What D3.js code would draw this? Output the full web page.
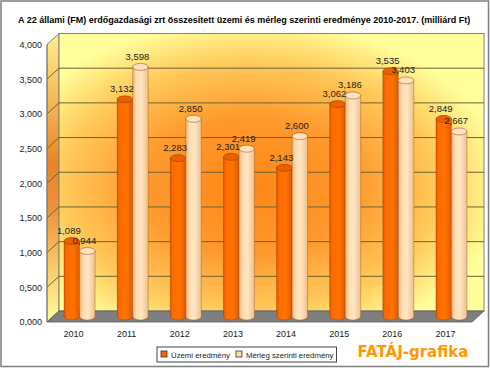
<!DOCTYPE html>
<html>
<head>
<meta charset="utf-8">
<script src="https://cdn.jsdelivr.net/npm/d3@7"></script>
<style>
  body { margin: 0; background: #fff; }
  svg { display: block; font-family: "Liberation Sans", Arial, sans-serif; }
</style>
</head>
<body>
<script>
// data (milliárd Ft)
const years = ["2010", "2011", "2012", "2013", "2014", "2015", "2016", "2017"];
const seriesNames = ["Üzemi eredmény", "Mérleg szerinti eredmény"];
const uzemi = [1.089, 3.132, 2.283, 2.301, 2.143, 3.062, 3.535, 2.849];
const merleg = [0.944, 3.598, 2.850, 2.419, 2.600, 3.186, 3.403, 2.667];
const yTicks = [0, 0.5, 1, 1.5, 2, 2.5, 3, 3.5, 4];

const title = "A 22 állami (FM) erdőgazdasági zrt összesített üzemi és mérleg szerinti eredménye 2010-2017. (milliárd Ft)";

const width = 490, height = 368;
const margin = {top: 44.5, right: 18, bottom: 46, left: 47};
const depth = {dx: 12, dy: -11};

const huFormat = d3.formatLocale({decimal: ",", thousands: " ", grouping: [3], currency: ["", " Ft"]}).format(".3f");

const svg = d3.select("body").append("svg")
    .attr("width", width)
    .attr("height", height);

const defs = svg.append("defs");

// back wall: orange centre fading to yellow
const wallGrad = defs.append("radialGradient")
    .attr("id", "wallGrad")
    .attr("cx", 0.45).attr("cy", 0.55).attr("r", 0.6);
[[0, "#ff8614"], [0.42, "#ff9a2e"], [0.74, "#ffca5a"], [1, "#ffff9c"]].forEach(s =>
    wallGrad.append("stop").attr("offset", s[0]).attr("stop-color", s[1]));

const sideGrad = defs.append("linearGradient")
    .attr("id", "sideGrad").attr("x1", 0).attr("y1", 0).attr("x2", 0).attr("y2", 1);
[[0, "#ffef8a"], [0.45, "#ec8426"], [0.6, "#f09034"], [1, "#ffff99"]].forEach(s =>
    sideGrad.append("stop").attr("offset", s[0]).attr("stop-color", s[1]));

// cylinder body shading
function cylGrad(id, stops) {
    const g = defs.append("linearGradient").attr("id", id)
        .attr("x1", 0).attr("y1", 0).attr("x2", 1).attr("y2", 0);
    stops.forEach(s => g.append("stop").attr("offset", s[0]).attr("stop-color", s[1]));
}
cylGrad("orangeBody", [[0, "#d95500"], [0.15, "#ff6a00"], [0.6, "#ff7300"], [1, "#e05a00"]]);
cylGrad("creamBody", [[0, "#e8b47a"], [0.25, "#ffdcb0"], [0.55, "#ffe6c4"], [1, "#efc08a"]]);

const colors = {
    body: ["url(#orangeBody)", "url(#creamBody)"],
    top: ["#ee5f00", "#ffe2bd"],
    legend: ["#ff6600", "#ffd9a6"]
};

// scales
const x = d3.scaleBand()
    .domain(years)
    .range([margin.left, width - margin.right]);

const y = d3.scaleLinear()
    .domain([0, 4])
    .range([height - margin.bottom, margin.top]);

const barW = 15.5;
const xs = d3.scaleBand()
    .domain(seriesNames)
    .range([(x.bandwidth() - 2 * barW) / 2, (x.bandwidth() + 2 * barW) / 2]);

const x0 = margin.left, x1 = width - margin.right;
const y0 = y(0), yTop = y(4);

// side wall
svg.append("path")
    .attr("d", `M${x0},${yTop}L${x0 + depth.dx},${yTop + depth.dy}L${x0 + depth.dx},${y0 + depth.dy}L${x0},${y0}Z`)
    .attr("fill", "url(#sideGrad)")
    .attr("stroke", "#808080");

// back wall
svg.append("rect")
    .attr("x", x0 + depth.dx)
    .attr("y", yTop + depth.dy)
    .attr("width", x1 - x0)
    .attr("height", y0 - yTop)
    .attr("fill", "url(#wallGrad)")
    .attr("stroke", "#808080");

// gridlines
const grid = svg.append("g").attr("stroke", "#6b6433").attr("stroke-width", 1).attr("fill", "none");
grid.selectAll("path")
    .data(yTicks.slice(1, -1))
    .join("path")
    .attr("d", d => `M${x0},${y(d)}L${x0 + depth.dx},${y(d) + depth.dy}L${x1 + depth.dx},${y(d) + depth.dy}`);

// floor
svg.append("path")
    .attr("d", `M${x0},${y0}L${x0 + depth.dx},${y0 + depth.dy}L${x1 + depth.dx},${y0 + depth.dy}L${x1},${y0}Z`)
    .attr("fill", "#7f7f7f")
    .attr("stroke", "#5a5a5a")
    .attr("stroke-width", 0.8);

// y axis line
svg.append("line")
    .attr("x1", x0).attr("x2", x0)
    .attr("y1", yTop).attr("y2", y0)
    .attr("stroke", "#808080");

// axes
const yAxis = svg.append("g")
    .attr("transform", `translate(${x0 - 5}, 0)`)
    .call(d3.axisLeft(y).tickValues(yTicks).tickFormat(huFormat).tickSize(0).tickPadding(0));
yAxis.select(".domain").remove();
yAxis.selectAll("text")
    .attr("font-family", "'Liberation Sans', Arial, sans-serif")
    .attr("font-size", 9)
    .attr("fill", "#222");

const xAxis = svg.append("g")
    .attr("transform", `translate(0, ${y0 + 9})`)
    .call(d3.axisBottom(x).tickSize(0).tickPadding(0));
xAxis.select(".domain").remove();
xAxis.selectAll("text")
    .attr("font-family", "'Liberation Sans', Arial, sans-serif")
    .attr("font-size", 9)
    .attr("fill", "#222");

// bars (cylinders at mid depth)
const bars = [];
years.forEach((yr, i) => {
    bars.push({year: yr, s: 0, value: uzemi[i]});
    bars.push({year: yr, s: 1, value: merleg[i]});
});

const mid = {dx: depth.dx / 2, dy: depth.dy / 2};
const ry = 3.5;
const cx = d => x(d.year) + xs(seriesNames[d.s]) + barW / 2 + mid.dx;
const cyTop = d => y(d.value) + mid.dy;
const cyBot = y0 + mid.dy;

const cyl = svg.append("g").selectAll("g")
    .data(bars)
    .join("g");

cyl.append("path")
    .attr("d", d => {
        const l = cx(d) - barW / 2, r = cx(d) + barW / 2;
        return `M${l},${cyTop(d)}L${l},${cyBot}A${barW / 2},${ry} 0 0 0 ${r},${cyBot}L${r},${cyTop(d)}Z`;
    })
    .attr("fill", d => colors.body[d.s])
    .attr("stroke", "#7a3c00")
    .attr("stroke-opacity", 0.55)
    .attr("stroke-width", 0.6);

cyl.append("ellipse")
    .attr("cx", cx)
    .attr("cy", cyTop)
    .attr("rx", barW / 2)
    .attr("ry", ry)
    .attr("fill", d => colors.top[d.s])
    .attr("stroke", "#6a3400")
    .attr("stroke-opacity", 0.7)
    .attr("stroke-width", 0.6);

// value labels
svg.append("g").selectAll("text")
    .data(bars)
    .join("text")
    .attr("x", d => cx(d) - 3)
    .attr("y", d => cyTop(d) - 7)
    .attr("text-anchor", "middle")
    .attr("font-size", 9.5)
    .attr("fill", "#222")
    .text(d => huFormat(d.value));

// title, sized to span 18..471
const titleText = svg.append("text")
    .attr("x", 18)
    .attr("y", 23)
    .attr("font-size", 10)
    .attr("font-weight", "bold")
    .attr("fill", "#000")
    .text(title);
const tw = titleText.node().getComputedTextLength();
titleText.attr("font-size", Math.min(10.5, 10 * 453 / tw));

// legend
const legend = svg.append("g").attr("transform", "translate(157, 347)");
const legBox = legend.append("rect")
    .attr("height", 15)
    .attr("fill", "#fff")
    .attr("stroke", "#444");
let lx = 4;
seriesNames.forEach((name, i) => {
    legend.append("rect")
        .attr("x", lx).attr("y", 4)
        .attr("width", 6).attr("height", 6)
        .attr("fill", colors.legend[i])
        .attr("stroke", "#333")
        .attr("stroke-width", 0.8);
    const t = legend.append("text")
        .attr("x", lx + 10).attr("y", 10.8)
        .attr("font-size", 7.8)
        .attr("fill", "#222")
        .text(name);
    lx += 10 + t.node().getComputedTextLength() + 6;
});
legBox.attr("width", lx - 3);

// signature
svg.append("text")
    .attr("x", 413)
    .attr("y", 357)
    .attr("text-anchor", "middle")
    .attr("font-family", "'DejaVu Sans', Verdana, sans-serif")
    .attr("font-weight", "bold")
    .attr("font-size", 15)
    .attr("fill", "#ff9900")
    .text("FATÁJ-grafika");

// outer frame
svg.append("rect")
    .attr("x", 1).attr("y", 1)
    .attr("width", width - 2.5).attr("height", height - 2.5)
    .attr("fill", "none")
    .attr("stroke", "#7f7f7f")
    .attr("stroke-width", 1.5);
</script>
</body>
</html>
